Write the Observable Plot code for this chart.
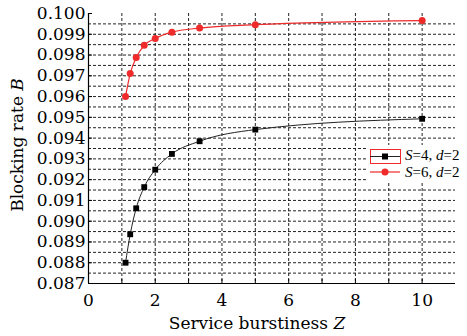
<!DOCTYPE html>
<html><head><meta charset="utf-8">
<script src="https://cdn.jsdelivr.net/npm/d3@7"></script>
<script src="https://cdn.jsdelivr.net/npm/@observablehq/plot@0.6"></script>
<style>
body{margin:0;background:#fff}
#wrap{position:relative;width:467px;height:336px;overflow:hidden}
#legend{position:absolute;left:367px;top:145px;width:100px;height:36px;background:#fff}
</style>
</head><body><div id="wrap"></div>
<script>
// Data
const Z = [1.11, 1.25, 1.43, 1.67, 2, 2.5, 3.33, 5, 10];
const B_S4 = [0.0880, 0.08937, 0.09062, 0.09164, 0.09248, 0.09324, 0.09385, 0.09441, 0.09493];
const B_S6 = [0.0960, 0.09711, 0.09788, 0.09847, 0.0988, 0.0991, 0.0993, 0.09946, 0.09966];
const seriesNames = ["S=4, d=2", "S=6, d=2"];
const xTicks = [0, 2, 4, 6, 8, 10];
const xMinorTicks = [1, 2, 3, 4, 5, 6, 7, 8, 9, 10];
const yTicks = [0.087, 0.088, 0.089, 0.090, 0.091, 0.092, 0.093, 0.094, 0.095, 0.096, 0.097, 0.098, 0.099, 0.100];
const yGrid = [0.0875, 0.088, 0.0885, 0.089, 0.0895, 0.090, 0.0905, 0.091, 0.0915, 0.092, 0.0925, 0.093, 0.0935, 0.094, 0.0945, 0.095, 0.0955, 0.096, 0.0965, 0.097, 0.0975, 0.098, 0.0985, 0.099, 0.0995];

const RED = "#ee2a2a";
const s4 = Z.map((z, i) => ({z, b: B_S4[i]}));
const s6 = Z.map((z, i) => ({z, b: B_S6[i]}));
const FONT = "DejaVu Serif";
const LFONT = "Liberation Serif";

const plot = Plot.plot({
  width: 467, height: 336,
  marginLeft: 88, marginRight: 12, marginTop: 13, marginBottom: 53,
  style: {fontFamily: FONT, fontSize: "17px", color: "#000", background: "#fff"},
  x: {domain: [0, 11]},
  y: {domain: [0.087, 0.100]},
  marks: [
    Plot.gridX(xMinorTicks, {stroke: "#222", strokeOpacity: 1, strokeDasharray: "3,2", strokeWidth: 1}),
    Plot.gridY(yGrid, {stroke: "#222", strokeOpacity: 1, strokeDasharray: "3,2", strokeWidth: 1}),
    Plot.axisX(xMinorTicks, {tickSize: -4, tickFormat: () => "", label: null}),
    Plot.axisX(xTicks, {tickSize: 0, tickPadding: 10, tickFormat: d => String(d), label: null}),
    Plot.axisY(yTicks, {tickSize: -4, tickPadding: 7, tickFormat: d => d.toFixed(3), label: null}),
    Plot.ruleX([0], {stroke: "#000", strokeWidth: 1.2}),
    Plot.ruleY([0.087], {stroke: "#000", strokeWidth: 1.2}),
    Plot.line(s4, {x: "z", y: "b", stroke: "#222", strokeWidth: 1, curve: "monotone-x"}),
    Plot.dot(s4, {x: "z", y: "b", symbol: "square", fill: "#000", r: 3.3}),
    Plot.line(s6, {x: "z", y: "b", stroke: RED, strokeWidth: 1.2, curve: "monotone-x"}),
    Plot.dot(s6, {x: "z", y: "b", symbol: "circle", fill: RED, r: 3.5})
  ]
});
document.getElementById("wrap").appendChild(plot);

// Axis labels with italic variables
const svg = d3.select(plot);
const xl = svg.append("text").attr("x", 257).attr("y", 329).attr("text-anchor", "middle")
  .attr("font-family", FONT).attr("font-size", 17).attr("fill", "#000");
xl.append("tspan").text("Service burstiness ");
xl.append("tspan").attr("font-style", "italic").text("Z");
const yl = svg.append("text").attr("transform", "translate(23,145) rotate(-90)").attr("text-anchor", "middle")
  .attr("font-family", FONT).attr("font-size", 17).attr("fill", "#000");
yl.append("tspan").text("Blocking rate ");
yl.append("tspan").attr("font-style", "italic").text("B");

// Legend
const leg = document.createElement("div");
leg.id = "legend";
const ls = d3.select(leg).append("svg").attr("width", 100).attr("height", 36);
// entry 1 (black squares, red box)
ls.append("rect").attr("x", 3.5).attr("y", 4.5).attr("width", 30).attr("height", 14).attr("fill", "none").attr("stroke", RED);
ls.append("line").attr("x1", 3).attr("x2", 33).attr("y1", 11.5).attr("y2", 11.5).attr("stroke", "#222");
ls.append("rect").attr("x", 15).attr("y", 8.5).attr("width", 6).attr("height", 6).attr("fill", "#000");
// entry 2 (red circles)
ls.append("line").attr("x1", 3).attr("x2", 33).attr("y1", 27).attr("y2", 27).attr("stroke", RED).attr("stroke-width", 1.2);
ls.append("circle").attr("cx", 18).attr("cy", 27).attr("r", 3.5).attr("fill", RED);
seriesNames.forEach((name, i) => {
  const m = name.match(/^(S)=(\d+), (d)=(\d+)$/);
  const t = ls.append("text").attr("x", 38).attr("y", i === 0 ? 15 : 32)
    .attr("font-family", LFONT).attr("font-size", 15).attr("fill", "#000");
  t.append("tspan").attr("font-style", "italic").text(m[1]);
  t.append("tspan").text("=" + m[2] + ", ");
  t.append("tspan").attr("font-style", "italic").text(m[3]);
  t.append("tspan").text("=" + m[4]);
});
document.getElementById("wrap").appendChild(leg);
</script>
</body></html>
